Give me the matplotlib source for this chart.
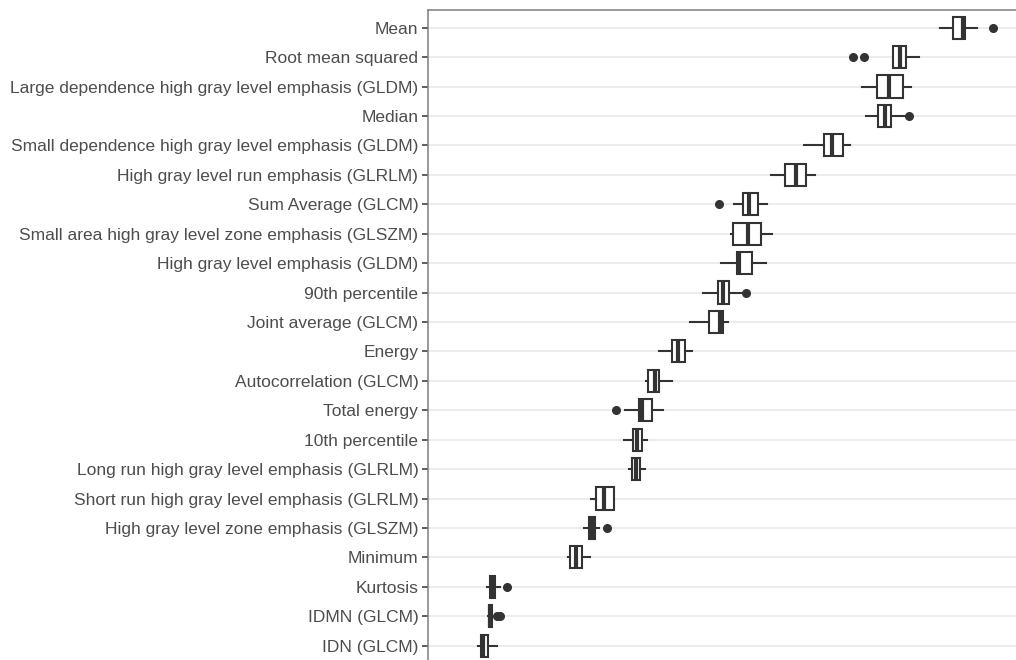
import numpy as np
import matplotlib
matplotlib.use("Agg")
import matplotlib.pyplot as plt

plt.rcParams['font.family'] = ['Liberation Sans', 'DejaVu Sans']

# features, top to bottom
features = [
    "Mean",
    "Root mean squared",
    "Large dependence high gray level emphasis (GLDM)",
    "Median",
    "Small dependence high gray level emphasis (GLDM)",
    "High gray level run emphasis (GLRLM)",
    "Sum Average (GLCM)",
    "Small area high gray level zone emphasis (GLSZM)",
    "High gray level emphasis (GLDM)",
    "90th percentile",
    "Joint average (GLCM)",
    "Energy",
    "Autocorrelation (GLCM)",
    "Total energy",
    "10th percentile",
    "Long run high gray level emphasis (GLRLM)",
    "Short run high gray level emphasis (GLRLM)",
    "High gray level zone emphasis (GLSZM)",
    "Minimum",
    "Kurtosis",
    "IDMN (GLCM)",
    "IDN (GLCM)",
]

# box statistics (arbitrary importance units)
whislo = [512, 465, 434, 438, 376, 343, 306, 303, 293, 275, 262, 231, 218, 197, 196, 201, 163, 156, 140, 59, 60, 50]
q1     = [525, 465, 449, 450, 396, 357, 315, 305, 309, 290, 281, 244, 220, 211, 205, 204, 168, 161, 142, 62, 61, 53]
med    = [535, 472, 461, 457, 404, 368, 321, 320, 311, 295, 292, 250, 227, 214, 209, 208, 176, 164, 148, 65, 62, 55]
q3     = [537, 478, 475, 463, 415, 378, 330, 333, 324, 301, 295, 257, 231, 224, 214, 212, 186, 167, 154, 67, 64, 60]
whishi = [549, 491, 483, 478, 422, 387, 339, 344, 338, 314, 300, 264, 244, 235, 219, 217, 186, 171, 162, 72, 64, 69]
fliers = [[565], [425, 436], [], [481], [], [], [291], [], [], [318], [], [], [], [188], [], [], [], [179], [], [79], [69, 72], []]

n = len(features)
positions = np.arange(n)[::-1]

stats = []
for i in range(n):
    stats.append(dict(whislo=whislo[i], q1=q1[i], med=med[i], q3=q3[i],
                      whishi=whishi[i], fliers=fliers[i], label=features[i]))

fig = plt.figure(figsize=(10.16, 6.6), dpi=100)
ax = fig.add_axes([428 / 1016, -3.3 / 660, 588 / 1016, 653.3 / 660])

ax.grid(axis='y', color='#ebebeb', linewidth=1.3, zorder=0)
ax.set_axisbelow(True)

col = '#333333'
ax.bxp(stats, positions=positions, orientation='horizontal', widths=0.75,
       showcaps=False, patch_artist=True,
       boxprops=dict(facecolor='white', edgecolor=col, linewidth=1.5),
       whiskerprops=dict(color=col, linewidth=1.5),
       medianprops=dict(color=col, linewidth=3.0),
       flierprops=dict(marker='o', markerfacecolor=col, markeredgecolor=col,
                       markersize=5.5))

ax.set_xlim(0, 588)
ax.set_ylim(-0.6, n - 0.4)
ax.set_yticks(positions)
ax.set_yticklabels(features)
ax.set_xticks([])
ax.tick_params(axis='y', colors=col, labelcolor='#4d4d4d', labelsize=12.5,
               length=4, width=1.1, pad=3)

for s in ['right', 'bottom']:
    ax.spines[s].set_visible(False)
for s in ['left', 'top']:
    ax.spines[s].set_color('#7f7f7f')
    ax.spines[s].set_linewidth(1.1)

fig.savefig('out.png', dpi=100)
